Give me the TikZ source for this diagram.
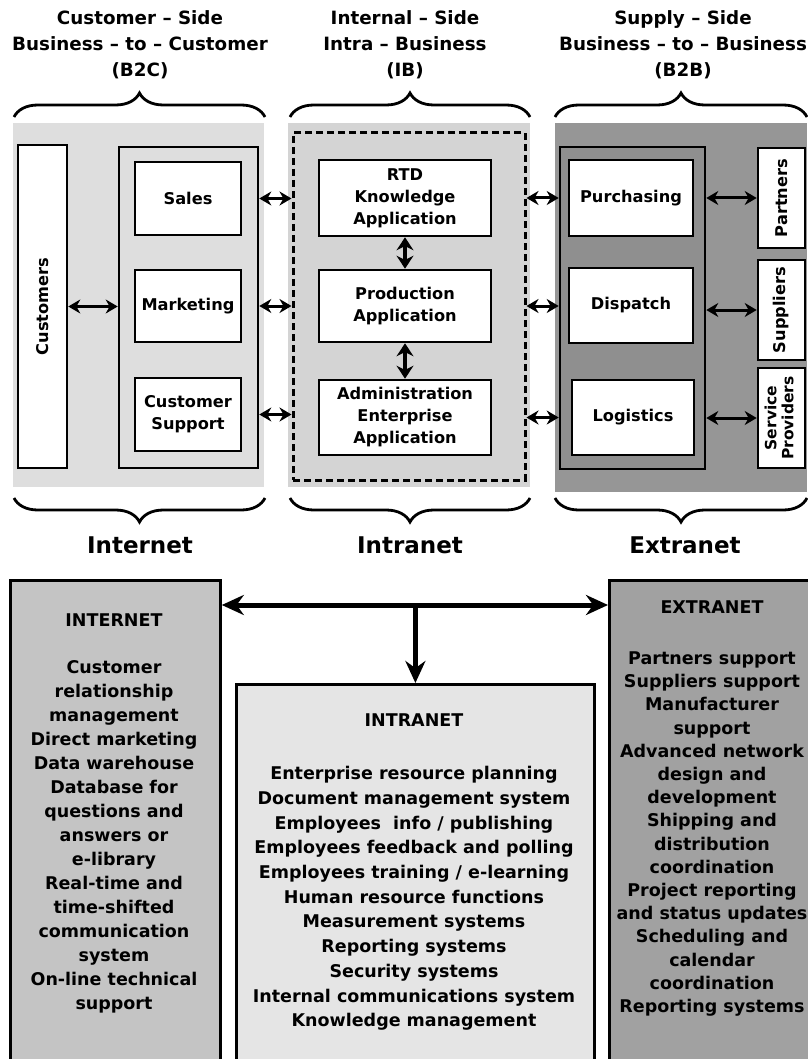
\documentclass[tikz,border=0pt]{standalone}
\usepackage{fontspec}
\setmainfont{DejaVu Sans}
\usetikzlibrary{arrows.meta,decorations.pathreplacing}
\definecolor{lightbg}{gray}{0.87}
\definecolor{midbg}{gray}{0.83}
\definecolor{darkbg}{gray}{0.59}
\definecolor{darkgrp}{gray}{0.56}
\definecolor{netfill}{gray}{0.77}
\definecolor{intrafill}{gray}{0.9}
\definecolor{extrafill}{gray}{0.63}

\begin{document}
\begin{tikzpicture}[x=1pt,y=-1pt,
    unit/.style={draw,line width=2.6pt,fill=white,inner sep=0pt,align=center,font=\fontsize{16.2}{22}\selectfont\bfseries},
    grp/.style={draw,line width=2.6pt,inner sep=0pt},
    link/.style={{Stealth[length=12pt,width=14pt]}-{Stealth[length=12pt,width=14pt]},line width=3pt},
    vlink/.style={{Stealth[length=13pt,width=17pt]}-{Stealth[length=13pt,width=17pt]},line width=3.5pt},
    biglink/.style={{Stealth[length=22pt,width=20pt]}-{Stealth[length=22pt,width=20pt]},line width=5pt},
    bigarrow/.style={-{Stealth[length=22pt,width=20pt]},line width=5pt},
    bigbrace/.style={decorate,decoration={brace,amplitude=24pt},line width=2.8pt},
    head/.style={align=center,font=\fontsize{18.3}{26}\selectfont\bfseries},
    netname/.style={font=\fontsize{23}{26}\selectfont\bfseries},
    listbox/.style={draw,line width=2.8pt,inner sep=0pt},
    listtxt/.style={align=center,font=\fontsize{17.5}{24}\selectfont\bfseries}]
    \useasboundingbox (0,0) rectangle (807,1059);
    \fill[white] (0,0) rectangle (807,1059);

    % headings and braces
    \node[head] (hb2c) at (140,45) {Customer -- Side\\Business -- to -- Customer\\(B2C)};
    \node[head] (hib) at (405,45) {Internal -- Side\\Intra -- Business\\(IB)};
    \node[head] (hb2b) at (683,45) {Supply -- Side\\Business -- to -- Business\\(B2B)};
    \draw[bigbrace] (14,117) -- (265,117);
    \draw[bigbrace] (290,117) -- (530,117);
    \draw[bigbrace] (555,117) -- (807,117);

    % customer side
    \fill[lightbg] (13,123) rectangle (264,487);
    \node[unit,minimum width=49pt,minimum height=323pt] (cust) at (42.5,306.5) {\rotatebox{90}{Customers}};
    \node[grp,minimum width=139pt,minimum height=321pt] (grpL) at (188.5,307.5) {};
    \node[unit,minimum width=106pt,minimum height=73pt] (sales) at (188,198.5) {Sales};
    \node[unit,minimum width=106pt,minimum height=72pt] (mkt) at (188,306) {Marketing};
    \node[unit,minimum width=106pt,minimum height=73pt] (csup) at (188,414.5) {Customer\\Support};

    % internal side
    \fill[midbg] (288,123) rectangle (530,487);
    \node[grp,dashed,line width=3pt,dash pattern=on 7pt off 4pt,minimum width=232pt,minimum height=347pt] (intra) at (409,306.5) {};
    \node[unit,minimum width=172pt,minimum height=76pt] (rtd) at (405,198) {RTD\\Knowledge\\Application};
    \node[unit,minimum width=172pt,minimum height=72pt] (prod) at (405,306) {Production\\Application};
    \node[unit,minimum width=172pt,minimum height=75pt] (admin) at (405,417.5) {Administration\\Enterprise\\Application};

    % supply side
    \fill[darkbg] (555,123) rectangle (807,492);
    \node[grp,fill=darkgrp,minimum width=145pt,minimum height=322pt] (grpR) at (632.5,308) {};
    \node[unit,minimum width=124pt,minimum height=76pt] (purch) at (631,198) {Purchasing};
    \node[unit,minimum width=124pt,minimum height=75pt] (disp) at (631,305.5) {Dispatch};
    \node[unit,minimum width=122pt,minimum height=75pt] (logi) at (633,417.5) {Logistics};
    \node[unit,minimum width=47pt,minimum height=100pt] (partners) at (781.5,198) {\rotatebox{90}{Partners}};
    \node[unit,minimum width=47pt,minimum height=100pt] (suppliers) at (781.5,310) {\rotatebox{90}{Suppliers}};
    \node[unit,minimum width=47pt,minimum height=100pt] (provid) at (781.5,418) {\rotatebox{90}{\fontsize{15.5}{17}\selectfont\begin{tabular}{@{}c@{}}Service\\Providers\end{tabular}}};

    % links
    \draw[link] (cust.east) -- (cust.east -| grpL.west);
    \foreach \n in {sales,mkt,csup} \draw[link] (\n -| grpL.east) -- (\n -| intra.west);
    \foreach \n in {rtd,prod,admin} \draw[link] (\n -| intra.east) -- (\n -| grpR.west);
    \foreach \n in {partners,suppliers,provid} \draw[link] (\n -| grpR.east) -- (\n.west);
    \draw[vlink] (rtd) -- (prod);
    \draw[vlink] (prod) -- (admin);

    % lower braces
    \draw[bigbrace] (265,498) -- (14,498);
    \draw[bigbrace] (530,498) -- (290,498);
    \draw[bigbrace] (807,498) -- (555,498);
    \node[netname] (lnet) at (140,545) {Internet};
    \node[netname] (lintra) at (410,545) {Intranet};
    \node[netname] (lextra) at (685,545) {Extranet};

    % service boxes
    \node[listbox,fill=netfill,minimum width=210pt,minimum height=490pt,anchor=north west] (inetbox) at (9,579) {};
    \node[listbox,fill=intrafill,minimum width=358pt,minimum height=390pt,anchor=north west] (intrabox) at (235,683) {};
    \node[listbox,fill=extrafill,minimum width=210pt,minimum height=490pt,anchor=north west] (extbox) at (608,579) {};

    \node[listtxt] (inethead) at (114,620) {INTERNET};
    \node[listtxt] (inetlist) at (114,836.5) {Customer\\relationship\\management\\Direct marketing\\Data warehouse\\Database for\\questions and\\answers or\\e-library\\Real-time and\\time-shifted\\communication\\system\\On-line technical\\support};
    \node[listtxt] (intrahead) at (414,720) {INTRANET};
    \node[listtxt,font=\fontsize{17.5}{24.7}\selectfont\bfseries] (intralist) at (414,898.5) {Enterprise resource planning\\Document management system\\Employees~ info / publishing\\Employees feedback and polling\\Employees training / e-learning\\Human resource functions\\Measurement systems\\Reporting systems\\Security systems\\Internal communications system\\Knowledge management};
    \node[listtxt] (exthead) at (712,607) {EXTRANET};
    \node[listtxt,font=\fontsize{17.5}{23.2}\selectfont\bfseries] (extlist) at (712,834) {Partners support\\Suppliers support\\Manufacturer\\support\\Advanced network\\design and\\development\\Shipping and\\distribution\\coordination\\Project reporting\\and status updates\\Scheduling and\\calendar\\coordination\\Reporting systems};

    \coordinate (hubrow) at (0,605);
    \coordinate (hub) at (intrabox.north |- hubrow);
    \draw[biglink] (inetbox.east |- hubrow) -- (extbox.west |- hubrow);
    \draw[bigarrow] (hub) -- (intrabox.north);
\end{tikzpicture}
\end{document}
